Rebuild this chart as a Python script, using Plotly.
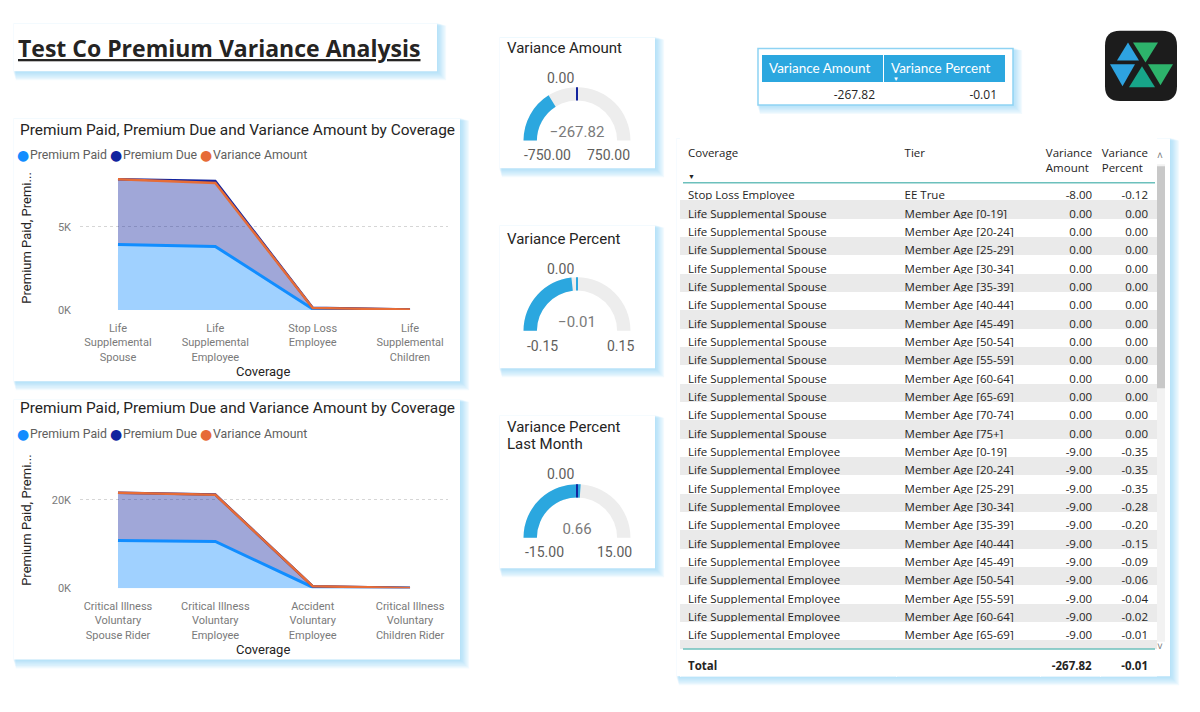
import plotly.graph_objects as go

W, H = 1200, 712
def X(px): return px / W
def Y(py): return 1 - py / H

UI = "Segoe UI, Open Sans, sans-serif"
DIN = "DIN, Roboto, sans-serif"

# ---------------- data ----------------
cov1 = ["Life Supplemental Spouse", "Life Supplemental Employee", "Stop Loss Employee", "Life Supplemental Children"]
cov1_ticks = ["Life<br>Supplemental<br>Spouse", "Life<br>Supplemental<br>Employee", "Stop Loss<br>Employee", "Life<br>Supplemental<br>Children"]
paid1 = [3930, 3820, 60, 12]
due1 = [3930, 3937, 68, 12]
var1 = [0, -117, -8, 0]

cov2 = ["Critical Illness Voluntary Spouse Rider", "Critical Illness Voluntary Employee", "Accident Voluntary Employee", "Critical Illness Voluntary Children Rider"]
cov2_ticks = ["Critical Illness<br>Voluntary<br>Spouse Rider", "Critical Illness<br>Voluntary<br>Employee", "Accident<br>Voluntary<br>Employee", "Critical Illness<br>Voluntary<br>Children Rider"]
paid2 = [10790, 10560, 220, 30]
due2 = [10790, 10620, 232, 30]
var2 = [0, -60, -12, 0]

y1_ticks = [0, 5000]
y1_ticktext = ["0K", "5K"]
y2_ticks = [0, 20000]
y2_ticktext = ["0K", "20K"]

legend_names = ["Premium Paid", "Premium Due", "Variance Amount"]

gauge_titles = ["Variance Amount", "Variance Percent", "Variance Percent<br>Last Month"]
gauge_values = [-267.82, -0.01, 0.66]
gauge_min = [-750, -0.15, -15]
gauge_max = [750, 0.15, 15]
gauge_target = [0, 0, 0]

kpi_headers = ["Variance Amount", "Variance Percent"]
kpi_values = [-267.82, -0.01]

table_headers = ["Coverage\u00a0<br>\u00a0", "Tier\u00a0<br>\u00a0", "Variance<br>Amount", "Variance<br>Percent"]
spouse_tiers = ["Member Age [0-19]", "Member Age [20-24]", "Member Age [25-29]", "Member Age [30-34]",
                "Member Age [35-39]", "Member Age [40-44]", "Member Age [45-49]", "Member Age [50-54]",
                "Member Age [55-59]", "Member Age [60-64]", "Member Age [65-69]", "Member Age [70-74]",
                "Member Age [75+]"]
employee_tiers = ["Member Age [0-19]", "Member Age [20-24]", "Member Age [25-29]", "Member Age [30-34]",
                  "Member Age [35-39]", "Member Age [40-44]", "Member Age [45-49]", "Member Age [50-54]",
                  "Member Age [55-59]", "Member Age [60-64]", "Member Age [65-69]", "Member Age [70-74]"]
table_coverage = ["Stop Loss Employee"] + ["Life Supplemental Spouse"] * 13 + ["Life Supplemental Employee"] * 12
table_tier = ["EE True"] + spouse_tiers + employee_tiers
table_var_amount = [-8.00] + [0.00] * 13 + [-9.00] * 12
table_var_percent = [-0.12] + [0.00] * 13 + [-0.35, -0.35, -0.35, -0.28, -0.20, -0.15, -0.09, -0.06, -0.04, -0.02, -0.01, -0.01]
total_label = "Total"
total_amount = -267.82
total_percent = -0.01

# ---------------- styles ----------------
C_PAID, C_DUE, C_VAR = "#118DFF", "#12239E", "#E66C37"
F_PAID, F_DUE, F_VAR = "rgba(17,141,255,0.4)", "rgba(18,35,158,0.4)", "rgba(230,108,55,0.4)"
GAUGE_BLUE = "#2BA7DF"
fmt = lambda v: "%.2f" % v

fig = go.Figure()

def add_area(xref, yref, cats, paid, due, var, grp):
    fig.add_trace(go.Scatter(x=cats, y=paid, xaxis=xref, yaxis=yref, stackgroup=grp, mode="lines",
                             line=dict(color=C_PAID, width=3), fillcolor=F_PAID, showlegend=False, name=legend_names[0]))
    fig.add_trace(go.Scatter(x=cats, y=due, xaxis=xref, yaxis=yref, stackgroup=grp, mode="lines",
                             line=dict(color=C_DUE, width=2.5), fillcolor=F_DUE, showlegend=False, name=legend_names[1]))
    fig.add_trace(go.Scatter(x=cats, y=var, xaxis=xref, yaxis=yref, stackgroup=grp, mode="lines",
                             line=dict(color=C_VAR, width=2.5), fillcolor=F_VAR, showlegend=False, name=legend_names[2]))

add_area("x", "y", cov1, paid1, due1, var1, "a")
add_area("x2", "y2", cov2, paid2, due2, var2, "b")

# gauges
gauge_geo = [(577, 142, 54), (577, 334, 54), (577, 543, 54)]  # (cx, base_y, outer radius)
thr_colors = [C_DUE, GAUGE_BLUE, C_DUE]
for i in range(3):
    cx, by, r = gauge_geo[i]
    fig.add_trace(go.Indicator(
        mode="gauge+number", value=gauge_values[i],
        domain=dict(x=[X(cx - r), X(cx + r)], y=[Y(by), Y(by - r)]),
        number=dict(valueformat=".2f", font=dict(family=DIN, size=15, color="#7a7a7a")),
        gauge=dict(shape="angular",
                   axis=dict(range=[gauge_min[i], gauge_max[i]], visible=False),
                   bar=dict(color=GAUGE_BLUE, thickness=1),
                   bgcolor="#EDEDED", borderwidth=0,
                   threshold=dict(line=dict(color=thr_colors[i], width=2), thickness=1, value=gauge_target[i]))))

# KPI table
fig.add_trace(go.Table(
    domain=dict(x=[X(761), X(1005)], y=[Y(104), Y(55)]),
    columnwidth=[122, 122],
    header=dict(values=kpi_headers, align="left", fill_color=GAUGE_BLUE, height=28,
                line=dict(color="white", width=1),
                font=dict(family="Lato, sans-serif", size=13.5, color="white")),
    cells=dict(values=[[fmt(v)] for v in kpi_values], align="right",
               fill_color="white", height=20, line=dict(color="white", width=1),
               font=dict(family=UI, size=12, color="#252423"))))

# main table
row_colors = ["#FFFFFF" if k % 2 == 0 else "#EAEAEA" for k in range(len(table_coverage))]
col_w = [217, 144, 60, 56]
aligns = ["left", "left", "right", "right"]
fig.add_trace(go.Table(
    domain=dict(x=[X(680), X(1157)], y=[Y(663), Y(138)]),
    columnwidth=col_w,
    header=dict(values=table_headers, align=aligns, fill_color="white", height=46,
                line=dict(color="white", width=1),
                font=dict(family=UI, size=11.5, color="#252423")),
    cells=dict(values=[table_coverage, table_tier,
                       [fmt(v) for v in table_var_amount], [fmt(v) for v in table_var_percent]],
               align=aligns,
               fill=dict(color=[row_colors] * 4), line=dict(color=[row_colors] * 4, width=1),
               height=18.33, font=dict(family=UI, size=11.5, color="#252423"))))

fig.add_trace(go.Table(
    domain=dict(x=[X(680), X(1157)], y=[Y(684), Y(656)]),
    columnwidth=col_w,
    header=dict(values=["<b>%s</b>" % total_label, "", "<b>%s</b>" % fmt(total_amount), "<b>%s</b>" % fmt(total_percent)],
                align=aligns, fill_color="white", height=28, line=dict(color="white", width=1),
                font=dict(family=UI, size=11.5, color="#252423")),
    cells=dict(values=[[], [], [], []])))

# ---------------- panels / shapes ----------------
shapes = []
def panel(x0, y0, x1, y1, border=None):
    for k in range(1, 8):
        shapes.append(dict(type="rect", xref="paper", yref="paper", layer="below",
                           x0=X(x0 - 1 + k * 0.4), x1=X(x1 + k * 1.3), y0=Y(y1 + k * 1.3), y1=Y(y0 - 1 + k * 0.4),
                           line=dict(width=0), fillcolor="rgba(110,195,240,0.09)"))
    shapes.append(dict(type="rect", xref="paper", yref="paper", layer="below",
                       x0=X(x0), x1=X(x1), y0=Y(y1), y1=Y(y0),
                       line=dict(width=1.5 if border else 0, color=border or "white"), fillcolor="white"))

panel(14, 24, 437, 72)
panel(14, 120, 460, 385)
panel(14, 404, 460, 666)
panel(500, 38, 655, 170)
panel(500, 228, 655, 372)
panel(500, 420, 655, 574)
panel(758, 49, 1013, 106, border="#8ED3F3")
panel(677, 140, 1170, 683)

# logo
def rounded(x0, y0, x1, y1, r):
    p = lambda x, y: "%f,%f" % (X(x), Y(y))
    return ("M %s L %s Q %s %s L %s Q %s %s L %s Q %s %s L %s Q %s %s Z" %
            (p(x0 + r, y0), p(x1 - r, y0), p(x1, y0), p(x1, y0 + r), p(x1, y1 - r), p(x1, y1), p(x1 - r, y1),
             p(x0 + r, y1), p(x0, y1), p(x0, y1 - r), p(x0, y0 + r), p(x0, y0), p(x0 + r, y0)))
shapes.append(dict(type="path", xref="paper", yref="paper", path=rounded(1105, 31, 1177, 102, 15),
                   fillcolor="#1C1C1C", line=dict(width=0)))
tris = [
    ([(1128, 43), (1117, 61), (1139, 61)], "#2EA3E0"),
    ([(1133, 43), (1158, 43), (1145.5, 63)], "#2DB36B"),
    ([(1110, 65), (1135, 65), (1122.5, 87)], "#2EA3E0"),
    ([(1142, 67), (1129, 88), (1155, 88)], "#17A589"),
    ([(1148, 65), (1173, 65), (1160.5, 86)], "#2DB36B"),
]
for pts, col in tris:
    path = "M " + " L ".join("%f,%f" % (X(a), Y(b)) for a, b in pts) + " Z"
    shapes.append(dict(type="path", xref="paper", yref="paper", path=path, fillcolor=col, line=dict(width=0)))

# table lines & scrollbar
shapes.append(dict(type="line", xref="paper", yref="paper", x0=X(683), x1=X(1155), y0=Y(184.5), y1=Y(184.5),
                   line=dict(color="#6CC0BC", width=1.5)))
shapes.append(dict(type="line", xref="paper", yref="paper", x0=X(683), x1=X(1155), y0=Y(655.5), y1=Y(655.5),
                   line=dict(color="#6CC0BC", width=1.5)))
shapes.append(dict(type="rect", xref="paper", yref="paper", layer="below", x0=X(1156), x1=X(1165), y0=Y(648), y1=Y(166),
                   line=dict(width=0), fillcolor="#F2F2F2"))
shapes.append(dict(type="rect", xref="paper", yref="paper", layer="below", x0=X(1156), x1=X(1165), y0=Y(392), y1=Y(168),
                   line=dict(width=0), fillcolor="#C8C8C8"))

# ---------------- annotations ----------------
ann = []
def txt(x, y, s, size, color="#252423", family=UI, xanchor="left", **kw):
    ann.append(dict(x=X(x), y=Y(y), xref="paper", yref="paper", text=s, showarrow=False,
                    xanchor=xanchor, yanchor="middle", font=dict(size=size, color=color, family=family), **kw))

txt(16, 48, "<b><u>Test Co Premium Variance Analysis</u></b>", 23, "#252423", "Open Sans, sans-serif")

legend_x = [(23, 30), (116, 123), (206, 213)]
for ty, ly, axy, covy in [(131, 157, 241, 375), (412, 438, 526, 656)]:
    txt(18, ty, "Premium Paid, Premium Due and Variance Amount by Coverage", 15.4, "#252423", DIN)
    for (cxp, tx), name, col in zip(legend_x, legend_names, [C_PAID, C_DUE, C_VAR]):
        txt(cxp, ly, "●", 14, col, "DejaVu Sans", xanchor="center")
        txt(tx - 2, ly, name, 12.3, "#605E5C", DIN)
    txt(27, axy, "Premium Paid, Premi...", 13, "#252423", DIN, xanchor="center", textangle=-90)
    txt(263, covy, "Coverage", 13, "#252423", DIN, xanchor="center")

gauge_label_pos = [
    dict(title=[(505, 48)], target=(576, 79), mn=(547, 157), mx=(608, 157)),
    dict(title=[(505, 241)], target=(576, 272), mn=(542, 349), mx=(620, 349)),
    dict(title=[(505, 431), (505, 448)], target=(576, 479), mn=(544, 557), mx=(614, 557)),
]
for i, g in enumerate(gauge_label_pos):
    lines = gauge_titles[i].split("<br>")
    for (gx, gy), line in zip(g["title"], lines):
        txt(gx, gy, line, 15, "#252423", DIN)
    txt(g["target"][0], g["target"][1], fmt(gauge_target[i]), 14, "#605E5C", DIN, xanchor="right")
    txt(g["mn"][0], g["mn"][1], fmt(gauge_min[i]), 14, "#605E5C", DIN, xanchor="center")
    txt(g["mx"][0], g["mx"][1], fmt(gauge_max[i]), 14, "#605E5C", DIN, xanchor="center")

txt(896, 79.5, "▼", 6, "white", UI, xanchor="center")
txt(691, 178, "▼", 7, "#252423", UI, xanchor="center")
txt(1160, 157, "˄", 10, "#777", UI, xanchor="center")
txt(1160, 652, "˅", 10, "#777", UI, xanchor="center")

# ---------------- axes ----------------
def xaxis(x0, x1, ticks, cats, anchor):
    return dict(domain=[X(x0), X(x1)], range=[-0.39, 3.39], type="category", anchor=anchor,
                tickmode="array", tickvals=cats, ticktext=ticks, showgrid=False, zeroline=False,
                showline=False, ticks="", ticklabelstandoff=10,
                tickfont=dict(family=DIN, size=11, color="#7a7a7a"), fixedrange=True)

def yaxis(ybot, ytop, rmax, tv, tt, anchor):
    return dict(domain=[Y(ybot), Y(ytop)], range=[0, rmax], anchor=anchor, tickmode="array",
                tickvals=tv, ticktext=tt, showgrid=True, gridcolor="#D6D6D6", griddash="dot", gridwidth=1,
                zeroline=False, showline=False, ticks="", ticklabelstandoff=8,
                tickfont=dict(family=DIN, size=11, color="#7a7a7a"), fixedrange=True)

fig.update_layout(
    width=W, height=H, margin=dict(l=0, r=0, t=0, b=0),
    paper_bgcolor="white", plot_bgcolor="rgba(0,0,0,0)",
    showlegend=False,
    xaxis=xaxis(80, 448, cov1_ticks, cov1, "y"),
    yaxis=yaxis(313, 172, 8400, y1_ticks, y1_ticktext, "x"),
    xaxis2=xaxis(80, 448, cov2_ticks, cov2, "y2"),
    yaxis2=yaxis(594, 469, 28000, y2_ticks, y2_ticktext, "x2"),
    shapes=shapes, annotations=ann,
)

fig.write_html("out.html", config={"displayModeBar": False},
               post_script="document.body.style.margin='0px';document.body.style.overflow='hidden';")
